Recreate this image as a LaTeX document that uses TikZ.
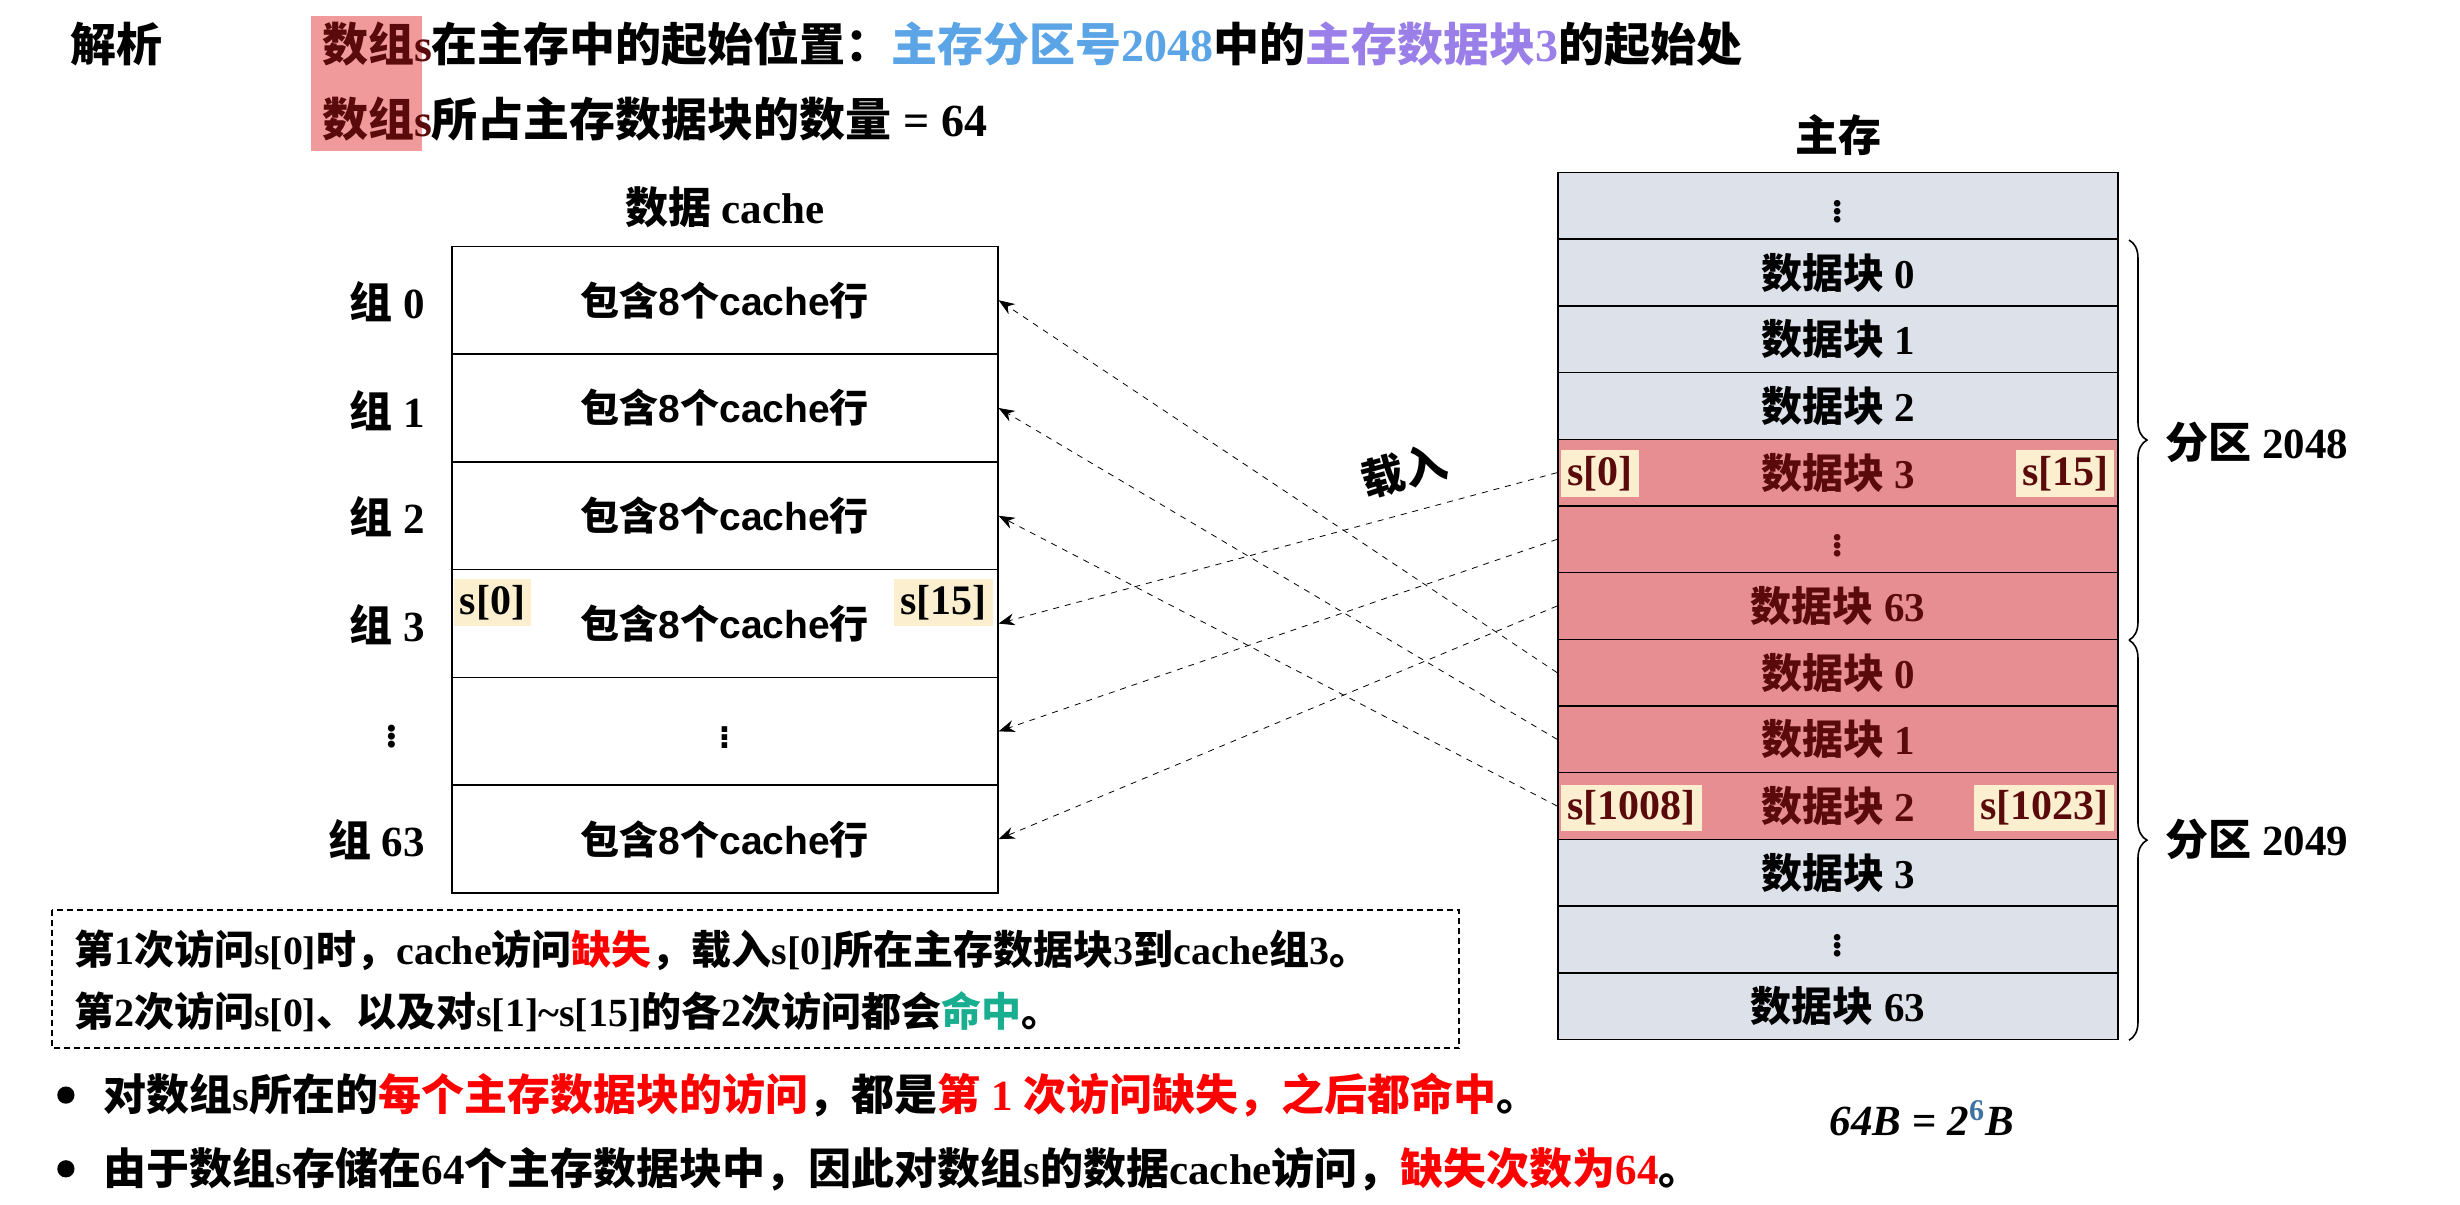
\documentclass[tikz,border=0pt]{standalone}
\usepackage{fontspec}
\usetikzlibrary{arrows.meta,decorations.pathreplacing}
\setmainfont{Liberation Serif}
\setsansfont{Liberation Sans}
\newfontfamily\cjkfam{Noto Sans CJK SC}
\newcommand\cjk{\cjkfam\bfseries}
\newcommand\latfont{\rmfamily\bfseries}
\XeTeXinterchartokenstate=1
\newXeTeXintercharclass\cjkclass
\newcount\cc
\def\setrange#1#2{\cc=#1\relax\loop\XeTeXcharclass\cc=\cjkclass\ifnum\cc<#2\advance\cc by 1\repeat}
\setrange{"3000}{"303F}
\setrange{"4E00}{"9FFF}
\setrange{"FF00}{"FFEF}
\XeTeXinterchartoks 0 \cjkclass = {\cjk}
\XeTeXinterchartoks 4095 \cjkclass = {\cjk}
\XeTeXinterchartoks \cjkclass 0 = {\latfont}
\XeTeXinterchartoks \cjkclass 4095 = {\latfont}
\definecolor{memgray}{HTML}{DDE1EA}
\definecolor{memred}{HTML}{E68E91}
\definecolor{sbox}{HTML}{FBEFCF}
\definecolor{dred}{HTML}{5A0A0A}
\definecolor{tblue}{HTML}{5BA4E6}
\definecolor{tpurple}{HTML}{9B7FE8}
\definecolor{tgreen}{HTML}{1AAE90}
\definecolor{hlpink}{HTML}{F09A9C}
\tikzset{
  txt/.style={inner sep=0pt,font=\fontsize{23}{26}\selectfont\latfont},
  crow/.style={draw,thick,minimum width=348*0.7845pt,minimum height=68.7*0.7845pt,inner sep=0pt,
     font=\fontsize{19.5}{22}\selectfont\def\latfont{\sffamily\bfseries}\latfont},
  mrow/.style={draw,thick,fill=memgray,minimum width=357*0.7845pt,minimum height=42.5*0.7845pt,inner sep=0pt,
     font=\fontsize{20.5}{23}\selectfont\latfont},
  mred/.style={mrow,fill=memred,text=dred},
  slab/.style={fill=sbox,inner sep=3pt,text=dred,font=\fontsize{21}{24}\selectfont\latfont},
  slab2/.style={fill=sbox,inner sep=3pt,text=black,font=\fontsize{21}{24}\selectfont\latfont},
  grp/.style={inner sep=0pt,font=\fontsize{21.5}{24}\selectfont\latfont},
  load/.style={dashed,thin,-{Stealth[length=8pt]}},
}
\begin{document}
\begin{tikzpicture}[x=0.7845pt,y=-0.7845pt]
\useasboundingbox (0,0) rectangle (1568,768);
\fill[hlpink] (198,10) rectangle (269,96);
\node[txt,anchor=west] (jx) at (45,28) {解析};
\node[txt,anchor=west] (l1) at (205,28) {\textcolor{dred}{数组s}在主存中的起始位置：\textcolor{tblue}{主存分区号2048}中的\textcolor{tpurple}{主存数据块3}的起始处};
\node[txt,anchor=west] (l2) at (205,76) {\textcolor{dred}{数组s}所占主存数据块的数量 = 64};
% cache
\node[txt,font=\fontsize{21.5}{24}\selectfont\sffamily\bfseries] (ct) at (462,132) {数据 cache};
\foreach \i/\t [count=\k from 0] in {0/包含8个cache行,1/包含8个cache行,2/包含8个cache行,3/包含8个cache行,4/$\vdots$,5/包含8个cache行}
  \node[crow] (c\i) at (462,{157+34.35+68.7*\k}) {\t};
\node[slab2,anchor=west] (cs0) at (289,384) {s[0]};
\node[slab2,anchor=east] (cs15) at (633,384) {s[15]};
\node[grp] (g0) at (247,192) {组 0};
\node[grp] (g1) at (247,262) {组 1};
\node[grp] (g2) at (247,329) {组 2};
\node[grp] (g3) at (247,398) {组 3};
\node[grp] (g4) at (250,466) {$\vdots$};
\node[grp] (g5) at (240,535) {组 63};
% memory
\node[txt,font=\fontsize{21.5}{24}\selectfont\latfont] (mt) at (1172,86) {主存};
\foreach \t/\s [count=\k from 0] in {{$\vdots$}/mrow,数据块 0/mrow,数据块 1/mrow,数据块 2/mrow,数据块 3/mred,{$\vdots$}/mred,数据块 63/mred,数据块 0/mred,数据块 1/mred,数据块 2/mred,数据块 3/mrow,{$\vdots$}/mrow,数据块 63/mrow}
  \node[\s] (m\k) at (1171.5,{110+21.25+42.5*\k}) {\t};
\node[slab,anchor=west] (ms0) at (995,302) {s[0]};
\node[slab,anchor=east] (ms15) at (1348,302) {s[15]};
\node[slab,anchor=west] (ms1008) at (995,515) {s[1008]};
\node[slab,anchor=east] (ms1023) at (1348,515) {s[1023]};
% braces
\draw[thick,decorate,decoration={brace,amplitude=9pt}] (1357,153) -- (1357,408);
\draw[thick,decorate,decoration={brace,amplitude=9pt}] (1357,408) -- (1357,663);
\node[grp,anchor=west] (p48) at (1380,282) {分区 2048};
\node[grp,anchor=west] (p49) at (1380,535) {分区 2049};
\node[grp] (bb) at (1225,713) {\textit{64B} = \textit{2}\textsuperscript{\textcolor{tblue!70!black}{6}}\textit{B}};
% arrows
\draw[load] (m7.west) -- (c0.east);
\draw[load] (m8.west) -- (c1.east);
\draw[load] (m9.west) -- (c2.east);
\draw[load] (m4.west) -- (c3.east);
\draw[load] (m5.west) -- (c4.east);
\draw[load] (m6.west) -- (c5.east);
\node[grp,rotate=15] (zr) at (895,300) {载入};
% note box
\draw[densely dashed,thick] (33,580) rectangle (930,668);
\node[txt,anchor=west,font=\fontsize{20}{23}\selectfont\latfont] (n1) at (47,606) {第1次访问s[0]时，cache访问\textcolor{red}{缺失}，载入s[0]所在主存数据块3到cache组3。};
\node[txt,anchor=west,font=\fontsize{20}{23}\selectfont\latfont] (n2) at (47,645) {第2次访问s[0]、以及对s[1]\char`\~ s[15]的各2次访问都会\textcolor{tgreen}{命中}。};
\fill (42,698) circle (5.5);
\fill (42,745) circle (5.5);
\node[txt,anchor=west,font=\fontsize{21.5}{24}\selectfont\latfont] (b1) at (66,698) {对数组s所在的\textcolor{red}{每个主存数据块的访问}，都是\textcolor{red}{第 1 次访问缺失，之后都命中}。};
\node[txt,anchor=west,font=\fontsize{21.5}{24}\selectfont\latfont] (b2) at (66,745) {由于数组s存储在64个主存数据块中，因此对数组s的数据cache访问，\textcolor{red}{缺失次数为64}。};
\end{tikzpicture}
\end{document}
